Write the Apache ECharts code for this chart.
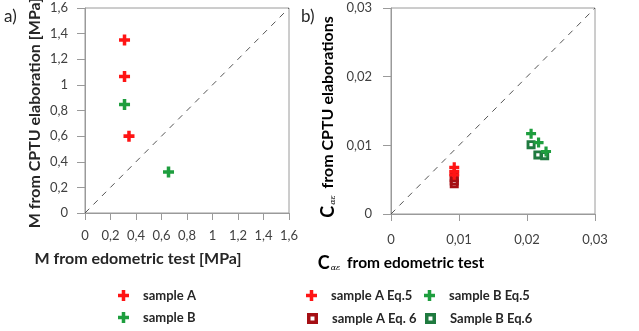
<!DOCTYPE html>
<html><head><meta charset="utf-8">
<script src="https://cdn.jsdelivr.net/npm/echarts@6/dist/echarts.min.js"></script>
<style>html,body{margin:0;padding:0;background:#fff}#c{width:639px;height:331px}</style>
</head><body><div id="c"></div>
<script>
// Panel a: M values [MPa] (edometric, CPTU)
const sampleA_M = [[0.31, 1.35], [0.31, 1.065], [0.345, 0.60]];
const sampleB_M = [[0.31, 0.847], [0.655, 0.32]];
const ticksA = [0, 0.2, 0.4, 0.6, 0.8, 1, 1.2, 1.4, 1.6];
// Panel b: C_alpha_epsilon (edometric, CPTU)
const sampleA_Eq5 = [[0.0093, 0.0068], [0.0093, 0.0062], [0.0093, 0.0057]];
const sampleA_Eq6 = [[0.0093, 0.0053], [0.0093, 0.0048], [0.0093, 0.0044]];
const sampleB_Eq5 = [[0.0206, 0.0117], [0.0217, 0.0104], [0.0228, 0.0091]];
const sampleB_Eq6 = [[0.0206, 0.0101], [0.0216, 0.0086], [0.0226, 0.0085]];
const ticksB = [0, 0.01, 0.02, 0.03];

const PLUS = 'path://M3.4,0H6.6V3.4H10V6.6H6.6V10H3.4V6.6H0V3.4H3.4Z';
const HOLLOW = 'path://M0,0H10V10H0Z M3.2,3.2V6.8H6.8V3.2Z';
const RED = '#ff1414', GREEN = '#1e9e3e', DRED = '#a50f14', DGREEN = '#1f7a3f';
const FONT = 'Lato';
const fmt = v => String(v).replace('.', ',');
const axisLine = {show: true, lineStyle: {color: '#9a9a9a', width: 1}};
const splitFrame = {show: false};

function xAxis(gi, max, interval, margin) {
  return {type: 'value', gridIndex: gi, min: 0, max: max, interval: interval,
    axisLine: axisLine, axisTick: {show: true, length: 7, lineStyle: {color: '#9a9a9a'}},
    splitLine: splitFrame,
    axisLabel: {formatter: fmt, color: '#404040', fontFamily: FONT, fontSize: 13, margin: margin}};
}
function yAxis(gi, max, interval, margin) {
  return {type: 'value', gridIndex: gi, min: 0, max: max, interval: interval,
    axisLine: axisLine, axisTick: {show: true, length: 8, lineStyle: {color: '#9a9a9a'}},
    splitLine: splitFrame,
    axisLabel: {formatter: fmt, color: '#404040', fontFamily: FONT, fontSize: 13, margin: margin}};
}
const chart = echarts.init(document.getElementById('c'), null, {renderer: 'canvas'});
const legendText = {color: '#262626', fontFamily: FONT, fontSize: 13, fontWeight: 'bold', padding: [0, 0, 0, 9]};
function leg(item, left, top) {
  return {left: left, top: top, padding: 0, itemWidth: 11, itemHeight: 11, textStyle: legendText, data: [item]};
}
chart.setOption({
  animation: false,
  grid: [
    {left: 85, top: 8, width: 204, height: 205, show: true, borderColor: '#9a9a9a', borderWidth: 1},
    {left: 391, top: 8, width: 204, height: 206, show: true, borderColor: '#9a9a9a', borderWidth: 1}
  ],
  xAxis: [xAxis(0, 1.6, 0.2, 16), xAxis(1, 0.03, 0.01, 19)],
  yAxis: [yAxis(0, 1.6, 0.2, 17), yAxis(1, 0.03, 0.01, 19)],
  legend: [
    leg('sample A', 118, 289), leg('sample B', 118, 311),
    leg('sample A Eq.5', 306, 289),
    leg({name: 'sample A Eq. 6', icon: HOLLOW, itemStyle: {color: DRED, borderWidth: 0}}, 307, 312),
    leg('sample B Eq.5', 424, 289),
    leg({name: 'Sample B Eq.6', icon: HOLLOW, itemStyle: {color: DGREEN, borderWidth: 0}}, 425, 312)
  ],
  series: [
    {type: 'line', xAxisIndex: 0, yAxisIndex: 0, data: [[0, 0], [1.6, 1.6]], symbol: 'none',
     lineStyle: {color: '#555', width: 1, type: [6, 6]}, silent: true},
    {type: 'line', xAxisIndex: 1, yAxisIndex: 1, data: [[0, 0], [0.03, 0.03]], symbol: 'none',
     lineStyle: {color: '#555', width: 1, type: [6, 6]}, silent: true},
    {name: 'sample A', type: 'scatter', xAxisIndex: 0, yAxisIndex: 0, data: sampleA_M,
     symbol: PLUS, symbolSize: 11, itemStyle: {color: RED, opacity: 1}},
    {name: 'sample B', type: 'scatter', xAxisIndex: 0, yAxisIndex: 0, data: sampleB_M,
     symbol: PLUS, symbolSize: 11, itemStyle: {color: GREEN, opacity: 1}},
    {name: 'sample A Eq. 6', type: 'scatter', xAxisIndex: 1, yAxisIndex: 1, data: sampleA_Eq6,
     symbol: HOLLOW, symbolSize: 9, itemStyle: {color: DRED, opacity: 1}},
    {name: 'Sample B Eq.6', type: 'scatter', xAxisIndex: 1, yAxisIndex: 1, data: sampleB_Eq6,
     symbol: HOLLOW, symbolSize: 9, itemStyle: {color: DGREEN, opacity: 1}},
    {name: 'sample A Eq.5', type: 'scatter', xAxisIndex: 1, yAxisIndex: 1, data: sampleA_Eq5,
     symbol: PLUS, symbolSize: 10, itemStyle: {color: RED, opacity: 1}},
    {name: 'sample B Eq.5', type: 'scatter', xAxisIndex: 1, yAxisIndex: 1, data: sampleB_Eq5,
     symbol: PLUS, symbolSize: 10, itemStyle: {color: GREEN, opacity: 1}}
  ],
  graphic: [
    {type: 'text', left: 4, top: 8, style: {text: 'a)', fontFamily: FONT, fontSize: 17, fill: '#262626'}},
    {type: 'text', left: 301, top: 8, style: {text: 'b)', fontFamily: FONT, fontSize: 17, fill: '#262626'}},
    {type: 'text', x: 138, y: 259, style: {text: 'M from edometric test [MPa]', fontFamily: FONT, fontSize: 16, fontWeight: 'bold',
      fill: '#262626', align: 'center', verticalAlign: 'middle'}},
    {type: 'text', x: 35, y: 113, rotation: Math.PI / 2, style: {text: 'M from CPTU elaboration [MPa]', fontFamily: FONT, fontSize: 16,
      fontWeight: 'bold', fill: '#262626', align: 'center', verticalAlign: 'middle'}},
    {type: 'text', x: 401, y: 263, style: {text: '{c|C}{s|αε}  {t|from edometric test}', align: 'center', verticalAlign: 'middle',
      rich: {c: {fontFamily: FONT, fontSize: 18, fontWeight: 'bold', color: '#262626'},
             s: {fontFamily: 'DejaVu Serif', fontSize: 8, fontStyle: 'italic', color: '#aaa', verticalAlign: 'bottom', padding: [8, 0, 0, 1]},
             t: {fontFamily: FONT, fontSize: 15.5, fontWeight: 'bold', color: '#262626'}}}},
    {type: 'text', x: 328, y: 117, rotation: Math.PI / 2, style: {text: '{c|C}{s|αε}  {t|from CPTU elaborations}', align: 'center', verticalAlign: 'middle',
      rich: {c: {fontFamily: FONT, fontSize: 18, fontWeight: 'bold', color: '#262626'},
             s: {fontFamily: 'DejaVu Serif', fontSize: 8, fontStyle: 'italic', color: '#aaa', verticalAlign: 'bottom', padding: [8, 0, 0, 1]},
             t: {fontFamily: FONT, fontSize: 16, fontWeight: 'bold', color: '#262626'}}}}
  ]
});
</script></body></html>
